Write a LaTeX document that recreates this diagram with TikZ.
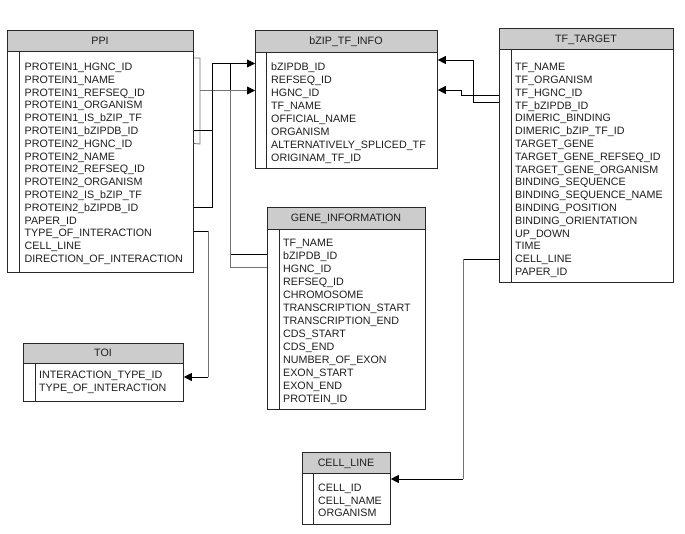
\documentclass[tikz,border=0pt]{standalone}
\usepackage{fontspec}
\setmainfont{Liberation Sans}
\usetikzlibrary{arrows.meta}
\definecolor{boxc}{RGB}{40,40,40}
\definecolor{hdrc}{RGB}{204,204,204}
\definecolor{txtc}{RGB}{30,30,30}
\definecolor{linegray}{RGB}{115,115,115}
% #1 name, #2 x1, #3 x2, #4 ytop, #5 yhead, #6 ybot, #7 inner x, #8 title
\newcommand\erdbox[8]{%
  \node[bdy, minimum width={(#3-#2)*1pt}, minimum height={(#6-#4)*1pt}] (#1) at (#2,#4) {};
  \node[hdr, minimum width={(#3-#2)*1pt}, minimum height={(#5-#4)*1pt}] (#1-h) at (#2,#4) {};
  \node[ttl] (#1-t) at ({(#2+#3)/2},{(#4+#5)/2}) {#8};
  \draw[inl] (#7,#5) -- (#7,#6);
}
\begin{document}
\begin{tikzpicture}[x=1pt,y=-1pt,
  every node/.style={font=\fontsize{10.7}{12}\selectfont},
  bdy/.style={draw=boxc, fill=white, anchor=north west, inner sep=0, line width=0.8pt},
  hdr/.style={draw=boxc, fill=hdrc, anchor=north west, inner sep=0, line width=0.8pt},
  ttl/.style={inner sep=0, text height=7.6pt, text depth=0pt, text=txtc},
  row/.style={anchor=west, inner sep=0, text height=7.6pt, text depth=0pt, text=txtc},
  inl/.style={draw=boxc, line width=0.8pt},
  blk/.style={draw=black, line width=0.8pt},
  gry/.style={draw=linegray, line width=0.8pt},
  arr/.style={-{Triangle[length=8pt,width=8pt,color=black]}}
]
\useasboundingbox[fill=white] (0,0) rectangle (685,534);

% ---------- PPI ----------
\erdbox{ppi}{7}{193}{30}{51}{272}{19}{PPI}
\foreach \t [count=\i] in {PROTEIN1\_HGNC\_ID, PROTEIN1\_NAME, PROTEIN1\_REFSEQ\_ID,
  PROTEIN1\_ORGANISM, PROTEIN1\_IS\_bZIP\_TF, PROTEIN1\_bZIPDB\_ID, PROTEIN2\_HGNC\_ID,
  PROTEIN2\_NAME, PROTEIN2\_REFSEQ\_ID, PROTEIN2\_ORGANISM, PROTEIN2\_IS\_bZIP\_TF,
  PROTEIN2\_bZIPDB\_ID, PAPER\_ID, TYPE\_OF\_INTERACTION, CELL\_LINE, DIRECTION\_OF\_INTERACTION}
  \node[row] (ppi-\i) at (24.5,{66.7+(\i-1)*12.8}) {\t};

% ---------- bZIP_TF_INFO ----------
\erdbox{bzip}{255}{437}{30}{52}{168}{266}{bZIP\_TF\_INFO}
\foreach \t [count=\i] in {bZIPDB\_ID, REFSEQ\_ID, HGNC\_ID, TF\_NAME, OFFICIAL\_NAME,
  ORGANISM, ALTERNATIVELY\_SPLICED\_TF, ORIGINAM\_TF\_ID}
  \node[row] (bzip-\i) at (271,{67+(\i-1)*13}) {\t};

% ---------- TF_TARGET ----------
\erdbox{tf}{499}{673}{28}{49}{282}{511}{TF\_TARGET}
\foreach \t [count=\i] in {TF\_NAME, TF\_ORGANISM, TF\_HGNC\_ID, TF\_bZIPDB\_ID,
  DIMERIC\_BINDING, DIMERIC\_bZIP\_TF\_ID, TARGET\_GENE, TARGET\_GENE\_REFSEQ\_ID,
  TARGET\_GENE\_ORGANISM, BINDING\_SEQUENCE, BINDING\_SEQUENCE\_NAME, BINDING\_POSITION,
  BINDING\_ORIENTATION, UP\_DOWN, TIME, CELL\_LINE, PAPER\_ID}
  \node[row] (tf-\i) at (515,{67+(\i-1)*12.8}) {\t};

% ---------- GENE_INFORMATION ----------
\erdbox{gene}{267}{425}{207}{229}{409}{279}{GENE\_INFORMATION}
\foreach \t [count=\i] in {TF\_NAME, bZIPDB\_ID, HGNC\_ID, REFSEQ\_ID, CHROMOSOME,
  TRANSCRIPTION\_START, TRANSCRIPTION\_END, CDS\_START, CDS\_END, NUMBER\_OF\_EXON,
  EXON\_START, EXON\_END, PROTEIN\_ID}
  \node[row] (gene-\i) at (283,{243+(\i-1)*13}) {\t};

% ---------- TOI ----------
\erdbox{toi}{23}{183}{343}{363}{401}{35}{TOI}
\foreach \t [count=\i] in {INTERACTION\_TYPE\_ID, TYPE\_OF\_INTERACTION}
  \node[row] (toi-\i) at (39,{375+(\i-1)*13}) {\t};

% ---------- CELL_LINE ----------
\erdbox{cell}{302}{390}{452}{473}{524}{313}{CELL\_LINE}
\foreach \t [count=\i] in {CELL\_ID, CELL\_NAME, ORGANISM}
  \node[row] (cell-\i) at (318,{488+(\i-1)*12.5}) {\t};

% ---------- connectors ----------
% PPI HGNC ids -> bZIP HGNC_ID
\draw[gry] (ppi.east |- 0,58) -| (200,144) -- (ppi.east |- ppi-7);
\draw[gry,arr] (200,90.5) -- (bzip.west |- 0,90.5);
% PPI bZIPDB ids -> bZIP bZIPDB_ID
\draw[blk] (ppi.east |- ppi-6) -| (212,63.5);
\draw[blk] (ppi.east |- ppi-12) -| (212,63.5);
\draw[blk,arr] (212,63.5) -- (bzip.west |- 0,63.5);
% GENE_INFORMATION -> bZIP
\draw[blk] (gene.west |- 0,254) -| (230,63.5);
\draw[gry] (gene.west |- 0,267) -| (230,90.5);
% TF_TARGET -> bZIP
\draw[blk,arr] (tf.west |- 0,102) -| (473,60) -- (bzip.east |- 0,60);
\draw[blk,arr] (tf.west |- 0,95) -| (461,90) -- (bzip.east |- 0,90);
% PPI -> TOI
\draw[blk] (ppi.east |- 0,231) -- (208,231);
\draw[gry] (208,231) -- (208,377);
\draw[blk,arr] (208,377) -- (toi.east |- 0,377);
% TF_TARGET -> CELL_LINE
\draw[blk] (tf.west |- tf-16) -- (tf-16 -| 463,0);
\draw[gry] (tf-16 -| 463,0) -- (463,479);
\draw[blk,arr] (463,479) -- (cell.east |- 0,479);
\end{tikzpicture}
\end{document}
